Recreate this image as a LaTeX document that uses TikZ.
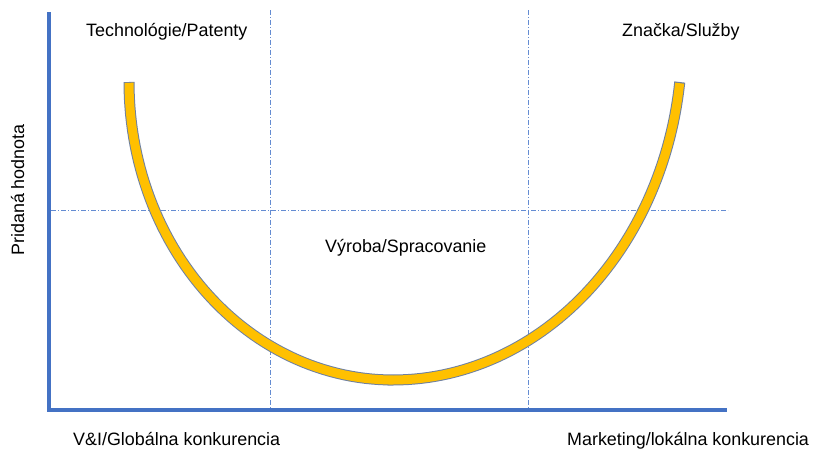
\documentclass[tikz,border=0pt]{standalone}
\usepackage{fontspec}
\setmainfont{Liberation Sans}
\definecolor{axisblue}{RGB}{68,114,196}
\definecolor{guideblue}{RGB}{100,140,210}
\definecolor{bandyellow}{RGB}{255,192,0}
\definecolor{bandedge}{RGB}{110,128,160}
\tikzset{
  axisline/.style={draw=axisblue, line width=4.2pt, line cap=butt},
  guide/.style={draw=guideblue, line width=0.9pt, dash pattern=on 5pt off 2pt on 1pt off 2pt},
  lbl/.style={inner sep=0pt, text=black, font=\fontsize{17.9}{21}\selectfont},
}
\begin{document}
\begin{tikzpicture}[x=1pt,y=-1pt]
\useasboundingbox (0,0) rectangle (814,450);
% coordinates
\coordinate (origin) at (49,410);
\coordinate (ytop) at (49,12);
\coordinate (xend) at (727,410);
\coordinate (v1top) at (270,10);
\coordinate (v1bot) at (270,408);
\coordinate (v2top) at (528,10);
\coordinate (v2bot) at (528,408);
\coordinate (hl) at (51,210);
\coordinate (hr) at (728,210);
% guides
\draw[guide] (v1top) -- (v1bot);
\draw[guide] (v2top) -- (v2bot);
\draw[guide] (hl) -- (hr);
% band
\draw[bandedge, line width=11pt]
  plot[domain=0:90, samples=60] ({393-264*cos(\x)},{82+298*sin(\x)})
  -- plot[domain=90:7.1, samples=60] ({393+289*cos(\x)},{40+340*sin(\x)});
\draw[bandyellow, line width=9pt]
  plot[domain=0.15:90, samples=60] ({393-264*cos(\x)},{82+298*sin(\x)})
  -- plot[domain=90:7.3, samples=60] ({393+289*cos(\x)},{40+340*sin(\x)});
% axes
\draw[axisline, line join=miter] (ytop) -- (origin) -- (xend);
% labels
\node[lbl, anchor=base west] (tech) at (86,36) {Technológie/Patenty};
\node[lbl, anchor=base west] (brand) at (622,36) {Značka/Služby};
\node[lbl, anchor=base west] (prod) at (325,252.7) {Výroba/Spracovanie};
\node[lbl, anchor=base west] (rd) at (73,445) {V\&I/Globálna konkurencia};
\node[lbl, anchor=base west] (mkt) at (567,445) {Marketing/lokálna konkurencia};
\node[lbl, anchor=base, rotate=90] (yl) at (24,190) {Pridaná hodnota};
\end{tikzpicture}
\end{document}
